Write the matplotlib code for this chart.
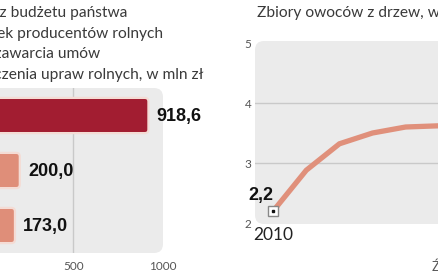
import matplotlib
matplotlib.use("Agg")
import matplotlib.pyplot as plt
from matplotlib.patches import FancyBboxPatch
from matplotlib.transforms import IdentityTransform

# ---------------- data ----------------
bar_categories = ["bar_1", "bar_2", "bar_3"]
bar_values = [918.6, 200.0, 173.0]
bar_colors = ["#a21d31", "#df8e79", "#df8e79"]
bar_xticks = [500, 1000]

line_years = [2010, 2011, 2012, 2013, 2014, 2015]
line_values = [2.2, 2.88, 3.32, 3.5, 3.6, 3.62]
line_yticks = [2, 3, 4, 5]

left_title = ["Dopłaty z budżetu państwa",
              "do składek producentów rolnych",
              "z tytułu zawarcia umów",
              "ubezpieczenia upraw rolnych, w mln zł"]
right_title = "Zbiory owoców z drzew, w mln ton"
source_text = "Źródło: GUS"

W, H = 439, 274
fig = plt.figure(figsize=(W / 100, H / 100), dpi=100)
fig.patch.set_facecolor("white")

TXT = ["Lato", "DejaVu Sans"]
NUM = ["Liberation Sans", "DejaVu Sans"]
PANEL = "#ebebeb"
GRID = "#c9c9c9"


def fax(x0, y0, x1, y1):
    # pixel box (top-left origin) -> figure fraction
    return [x0 / W, 1 - y1 / H, (x1 - x0) / W, (y1 - y0) / H]


def panel(ax, x0, y0, x1, y1):
    p = FancyBboxPatch((x0, H - y1), x1 - x0, y1 - y0,
                       boxstyle="round,pad=0,rounding_size=9",
                       transform=IdentityTransform(), facecolor=PANEL,
                       edgecolor="none", zorder=-5, clip_on=False)
    ax.add_artist(p)


# ---------------- left: bar chart ----------------
ax1 = fig.add_axes(fax(-16, 88, 163, 253))
ax1.patch.set_alpha(0)
panel(ax1, -30, 88, 163, 253)
ax1.set_xlim(0, 1000)
ax1.set_ylim(len(bar_values) - 0.5, -0.5)
ypos = list(range(len(bar_values)))
bars = ax1.barh(ypos, bar_values, height=0.64, color=bar_colors)
for b, c in zip(bars, bar_colors):
    x, y = b.get_x(), b.get_y()
    w, h = b.get_width(), b.get_height()
    b.set_visible(False)
    rp = FancyBboxPatch((x, y), w, h, boxstyle="round,pad=0,rounding_size=20",
                        mutation_aspect=0.0033, facecolor=c,
                        edgecolor="#f4dcd5", linewidth=1.6, zorder=3)
    ax1.add_patch(rp)
for yv, v in zip(ypos, bar_values):
    ax1.annotate(f"{v:.1f}".replace(".", ","), xy=(v, yv), xytext=(6, -1),
                 textcoords="offset points", ha="left", va="center",
                 fontsize=13, fontweight="bold", family=NUM, color="#111111")
ax1.axvline(500, color=GRID, lw=1, zorder=1)
ax1.set_xticks(bar_xticks)
ax1.set_xticklabels([str(t) for t in bar_xticks])
ax1.set_yticks([])
ax1.tick_params(axis="x", length=0, pad=6, labelsize=8.5, labelcolor="#555555")
for lab in ax1.get_xticklabels():
    lab.set_family(TXT)
for s in ax1.spines.values():
    s.set_visible(False)

# left title (right-aligned at its line ends)
ends = [127, 163, 100, 204]
for i, (line, xe) in enumerate(zip(left_title, ends)):
    fig.text(xe / W, 1 - (17 + i * 20.7) / H, line, ha="right", va="baseline",
             fontsize=11.2, family=TXT, color="#3a3a3a")

# ---------------- right: line chart ----------------
ax2 = fig.add_axes(fax(255, 43, 500, 223))
ax2.patch.set_alpha(0)
panel(ax2, 255, 41, 520, 224)
ax2.set_ylim(2, 5)
ax2.set_xlim(2009.45, 2016.85)
for g in [3, 4]:
    ax2.axhline(g, color=GRID, lw=1, zorder=1)
ax2.plot(line_years, line_values, color="#e0907b", lw=3.8, zorder=3,
         solid_capstyle="butt", solid_joinstyle="miter")
ax2.plot(line_years[0], line_values[0], marker="s", ms=6.5, mfc="white",
         mec="#888888", mew=1, zorder=4)
ax2.plot(line_years[0], line_values[0], marker="s", ms=1.8, mfc="#111111",
         mec="#111111", zorder=5)
ax2.annotate(f"{line_values[0]:.1f}".replace(".", ","),
             xy=(line_years[0], line_values[0]), xytext=(0, 8),
             textcoords="offset points", ha="right", va="baseline",
             fontsize=13, fontweight="bold", family=NUM, color="#111111")
ax2.set_yticks(line_yticks)
ax2.set_yticklabels([str(t) for t in line_yticks])
ax2.set_xticks([line_years[0]])
ax2.set_xticklabels([str(line_years[0])])
ax2.tick_params(axis="y", length=0, pad=2.5, labelsize=8.5, labelcolor="#555555")
ax2.tick_params(axis="x", length=0, pad=3, labelsize=12.5, labelcolor="#222222")
for lab in ax2.get_xticklabels() + ax2.get_yticklabels():
    lab.set_family(TXT)
for s in ax2.spines.values():
    s.set_visible(False)

fig.text(257 / W, 1 - 17 / H, right_title, ha="left", va="baseline",
         fontsize=11.2, family=TXT, color="#3a3a3a")
fig.text(432 / W, 1 - 271 / H, source_text, ha="left", va="baseline",
         fontsize=9, family=TXT, color="#555555")

fig.savefig("out.png", dpi=100)
